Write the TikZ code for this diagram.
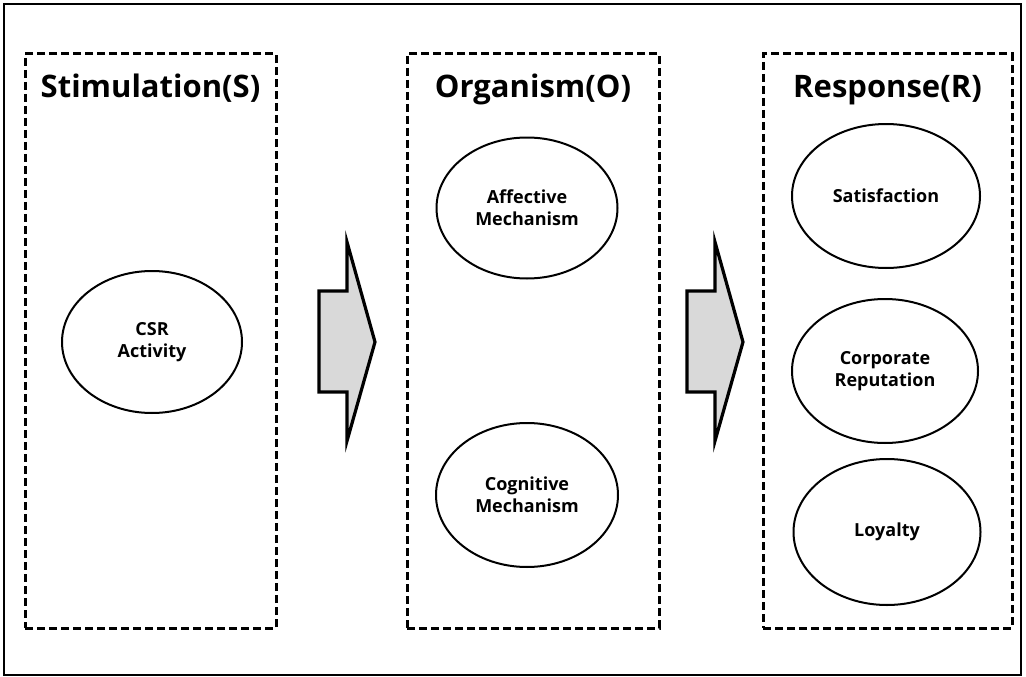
\documentclass[tikz,border=0pt]{standalone}
\usepackage{fontspec}
\setmainfont{Open Sans}
\usetikzlibrary{positioning,shapes.geometric}

\begin{document}
\begin{tikzpicture}[x=1pt,y=-1pt,
  panel/.style={draw,dash pattern=on 8pt off 4pt,line width=3pt,inner sep=0pt},
  factor/.style={draw,ellipse,line width=2pt,inner sep=0pt,align=center,
    font=\fontsize{18}{22}\selectfont\bfseries},
  heading/.style={anchor=base,font=\fontsize{31}{36}\selectfont\bfseries},
  bigarrow/.style={draw,line width=3.2pt,fill=gray!30,line join=miter}]
\useasboundingbox (0,0) rectangle (1026,677);
\draw [line width=1.5pt] (4,4) rectangle (1021,675);
% the three stages
\node [panel,minimum width=251,minimum height=574] (stim) at (150.5,341) {};
\node [panel,minimum width=252,minimum height=574] (org) at (533,341) {};
\node [panel,minimum width=249,minimum height=574] (resp) at (887.5,341) {};
\node [heading] (stimtitle) at (150.5,97) {Stimulation(S)};
\node [heading] (orgtitle) at (533,97) {Organism(O)};
\node [heading] (resptitle) at (887.5,97) {Response(R)};
% stimulus
\node [factor,minimum width=180,minimum height=142] (csr) at (152,342) {CSR\\Activity};
% organism
\node [factor,minimum width=181,minimum height=141] (affect) at (527,208) {Affective\\Mechanism};
\node [factor,minimum width=182,minimum height=144] (cognit) at (527,495) {Cognitive\\Mechanism};
% response
\node [factor,minimum width=188,minimum height=144] (satis) at (886,196) {Satisfaction};
\node [factor,minimum width=186,minimum height=144] (reput) at (885,371) {Corporate\\Reputation};
\node [factor,minimum width=187,minimum height=146] (loyal) at (887,532) {Loyalty};
% block arrows between the stages
\foreach \ax in {319,687}
  \draw [bigarrow] (\ax,291) -- ++(28,0) -- ++(0,-49) -- ++(28,100)
    -- ++(-28,99) -- ++(0,-49) -- ++(-28,0) -- cycle;
\end{tikzpicture}
\end{document}
